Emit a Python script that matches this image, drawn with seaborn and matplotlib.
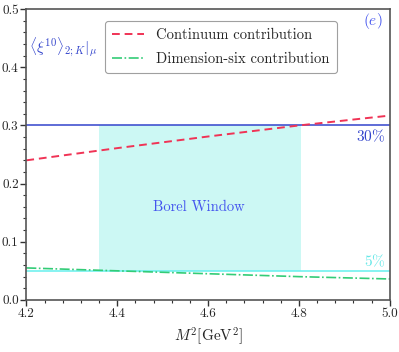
import numpy as np
import pandas as pd
import matplotlib
matplotlib.use('Agg')
import matplotlib.pyplot as plt
import seaborn as sns
from matplotlib.ticker import MultipleLocator, FormatStrFormatter

# Borel parameter M^2 [GeV^2]
m2 = [4.2, 4.4, 4.6, 4.8, 5.0]
# continuum contribution ratio
continuum = [0.240, 0.261, 0.281, 0.300, 0.317]
# dimension-six contribution ratio
dim_six = [0.055, 0.050, 0.045, 0.040, 0.036]

window = [4.36, 4.805]
upper_limit = 0.30
lower_limit = 0.05

df = pd.DataFrame({'M2': m2, 'Continuum contribution': continuum,
                   'Dimension-six contribution': dim_six})

sns.set_theme(style='white')
plt.rcParams['font.family'] = ['cmr10', 'DejaVu Serif']
plt.rcParams['mathtext.fontset'] = 'cm'
plt.rcParams['axes.formatter.use_mathtext'] = True

fig = plt.figure(figsize=(3.99, 3.52), dpi=100)
ax = fig.add_axes([0.066, 0.148, 0.911, 0.826])

# Borel window shading
ax.fill_between(window, lower_limit, upper_limit, color='#ccf8f4', lw=0, zorder=0)
ax.axhline(upper_limit, color='#3344cc', lw=1.1, zorder=1)
ax.axhline(lower_limit, color='#66f0ee', lw=1.1, zorder=1)

sns.lineplot(data=df, x='M2', y='Continuum contribution', ax=ax, color='#f03355',
             lw=1.4, label='Continuum contribution')
ax.lines[-1].set_dashes([4, 2.5])
sns.lineplot(data=df, x='M2', y='Dimension-six contribution', ax=ax, color='#33cc77',
             lw=1.2, label='Dimension-six contribution')
ax.lines[-1].set_dashes([6, 1.5, 1, 1.5])

ax.set_xlim(4.2, 5.0)
ax.set_ylim(0.0, 0.5)
ax.xaxis.set_major_locator(MultipleLocator(0.2))
ax.xaxis.set_minor_locator(MultipleLocator(0.04))
ax.yaxis.set_major_locator(MultipleLocator(0.1))
ax.yaxis.set_minor_locator(MultipleLocator(0.02))
ax.xaxis.set_major_formatter(FormatStrFormatter('%.1f'))
ax.yaxis.set_major_formatter(FormatStrFormatter('%.1f'))
ax.tick_params(which='major', direction='out', length=4, width=1, color='#333333',
               labelsize=9.5, bottom=True, left=True, pad=1.5)
ax.tick_params(which='minor', direction='out', length=2, width=0.8, color='#333333',
               bottom=True, left=True)
for s in ax.spines.values():
    s.set_color('#555555')
    s.set_linewidth(1.2)

ax.set_xlabel(r'$M^2[\mathrm{GeV}^2]$', fontsize=11, labelpad=4)
ax.set_ylabel('')

leg = ax.legend(loc='upper center', bbox_to_anchor=(0.535, 0.985), fontsize=10.5,
                frameon=True, fancybox=True, edgecolor='#888888', handlelength=2.2,
                borderpad=0.5, labelspacing=0.7)
leg.get_frame().set_linewidth(0.8)

ax.text(4.58, 0.16, 'Borel Window', color='#4455ee', fontsize=10.5, ha='center', va='center')
ax.text(4.99, 0.296, r'$30\%$', color='#3344cc', fontsize=11, ha='right', va='top')
ax.text(4.99, 0.053, r'$5\%$', color='#66e8e8', fontsize=11, ha='right', va='bottom')
ax.text(4.985, 0.48, r'$(e)$', color='#4455ee', fontsize=11, ha='right', va='center')
ax.text(4.205, 0.435, r'$\langle\xi^{10}\rangle_{2;K}|_\mu$', color='#3344cc', fontsize=11,
        ha='left', va='center')

fig.savefig('out.png', dpi=100)
